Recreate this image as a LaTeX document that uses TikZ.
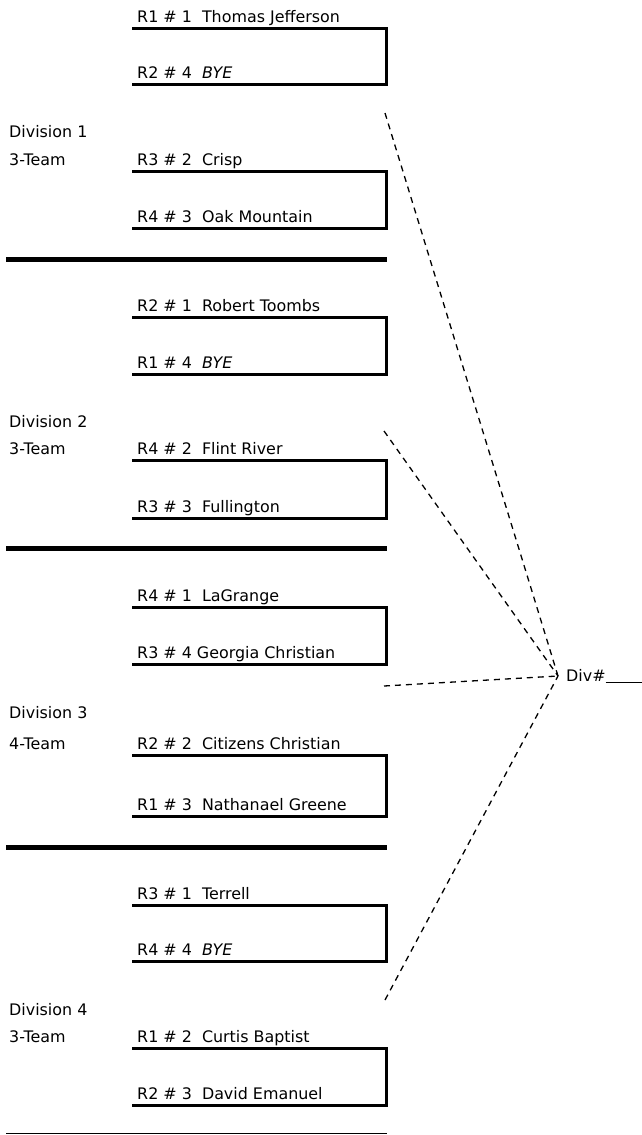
\documentclass[tikz,border=0pt]{standalone}
\usepackage{fontspec}
\setmainfont{DejaVu Sans}
\begin{document}
\begin{tikzpicture}[x=1pt,y=-1pt,
  every node/.style={font=\fontsize{15.9}{18}\selectfont, inner sep=0pt, anchor=base west},
  bracketline/.style={line width=3pt, line join=miter},
  sepline/.style={line width=5pt},
  finalline/.style={line width=1pt},
  dashline/.style={dash pattern=on 6pt off 5pt, line width=1.3pt}]
\useasboundingbox (0,0) rectangle (641,1135);

% ---------- Group 1 ----------
\draw[bracketline] (132,28) -- (386,28) -- (386,84) -- (132,84);
\node (t1a) at (137,22) {R1 \# 1\ \ Thomas Jefferson};
\node (t1b) at (137,78) {R2 \# 4\ \ \textit{BYE}};
\node (d1) at (9,137) {Division 1};
\node (n1) at (9,165) {3-Team};
\draw[bracketline] (132,171) -- (386,171) -- (386,228) -- (132,228);
\node (t1c) at (137,165) {R3 \# 2\ \ Crisp};
\node (t1d) at (137,222) {R4 \# 3\ \ Oak Mountain};
\draw[sepline] (6,259) -- (387,259);

% ---------- Group 2 ----------
\draw[bracketline] (132,317) -- (386,317) -- (386,374) -- (132,374);
\node (t2a) at (137,311) {R2 \# 1\ \ Robert Toombs};
\node (t2b) at (137,368) {R1 \# 4\ \ \textit{BYE}};
\node (d2) at (9,427) {Division 2};
\node (n2) at (9,454) {3-Team};
\draw[bracketline] (132,460) -- (386,460) -- (386,518) -- (132,518);
\node (t2c) at (137,454) {R4 \# 2\ \ Flint River};
\node (t2d) at (137,512) {R3 \# 3\ \ Fullington};
\draw[sepline] (6,548) -- (387,548);

% ---------- Group 3 ----------
\draw[bracketline] (132,607) -- (386,607) -- (386,664) -- (132,664);
\node (t3a) at (137,601) {R4 \# 1\ \ LaGrange};
\node (t3b) at (137,658) {R3 \# 4 Georgia Christian};
\node (d3) at (9,718) {Division 3};
\node (n3) at (9,749) {4-Team};
\draw[bracketline] (132,755) -- (386,755) -- (386,816) -- (132,816);
\node (t3c) at (137,749) {R2 \# 2\ \ Citizens Christian};
\node (t3d) at (137,810) {R1 \# 3\ \ Nathanael Greene};
\draw[sepline] (6,847) -- (387,847);

% ---------- Group 4 ----------
\draw[bracketline] (132,905) -- (386,905) -- (386,961) -- (132,961);
\node (t4a) at (137,899) {R3 \# 1\ \ Terrell};
\node (t4b) at (137,955) {R4 \# 4\ \ \textit{BYE}};
\node (d4) at (9,1015) {Division 4};
\node (n4) at (9,1042) {3-Team};
\draw[bracketline] (132,1048) -- (386,1048) -- (386,1105) -- (132,1105);
\node (t4c) at (137,1042) {R1 \# 2\ \ Curtis Baptist};
\node (t4d) at (137,1099) {R2 \# 3\ \ David Emanuel};
\draw[finalline] (6,1133.5) -- (387,1133.5);

% ---------- Final ----------
\coordinate (c) at (558,676);
\coordinate (s1) at (385,113);
\coordinate (s2) at (384,431);
\coordinate (s3) at (384,686);
\coordinate (s4) at (385,1000);
\node (div) at (566,681) {Div\#\rule[-1.5pt]{40pt}{0.9pt}};
\draw[dashline] (s1) -- (c);
\draw[dashline] (s2) -- (c);
\draw[dashline] (s3) -- (c);
\draw[dashline] (s4) -- (c);
\end{tikzpicture}
\end{document}
